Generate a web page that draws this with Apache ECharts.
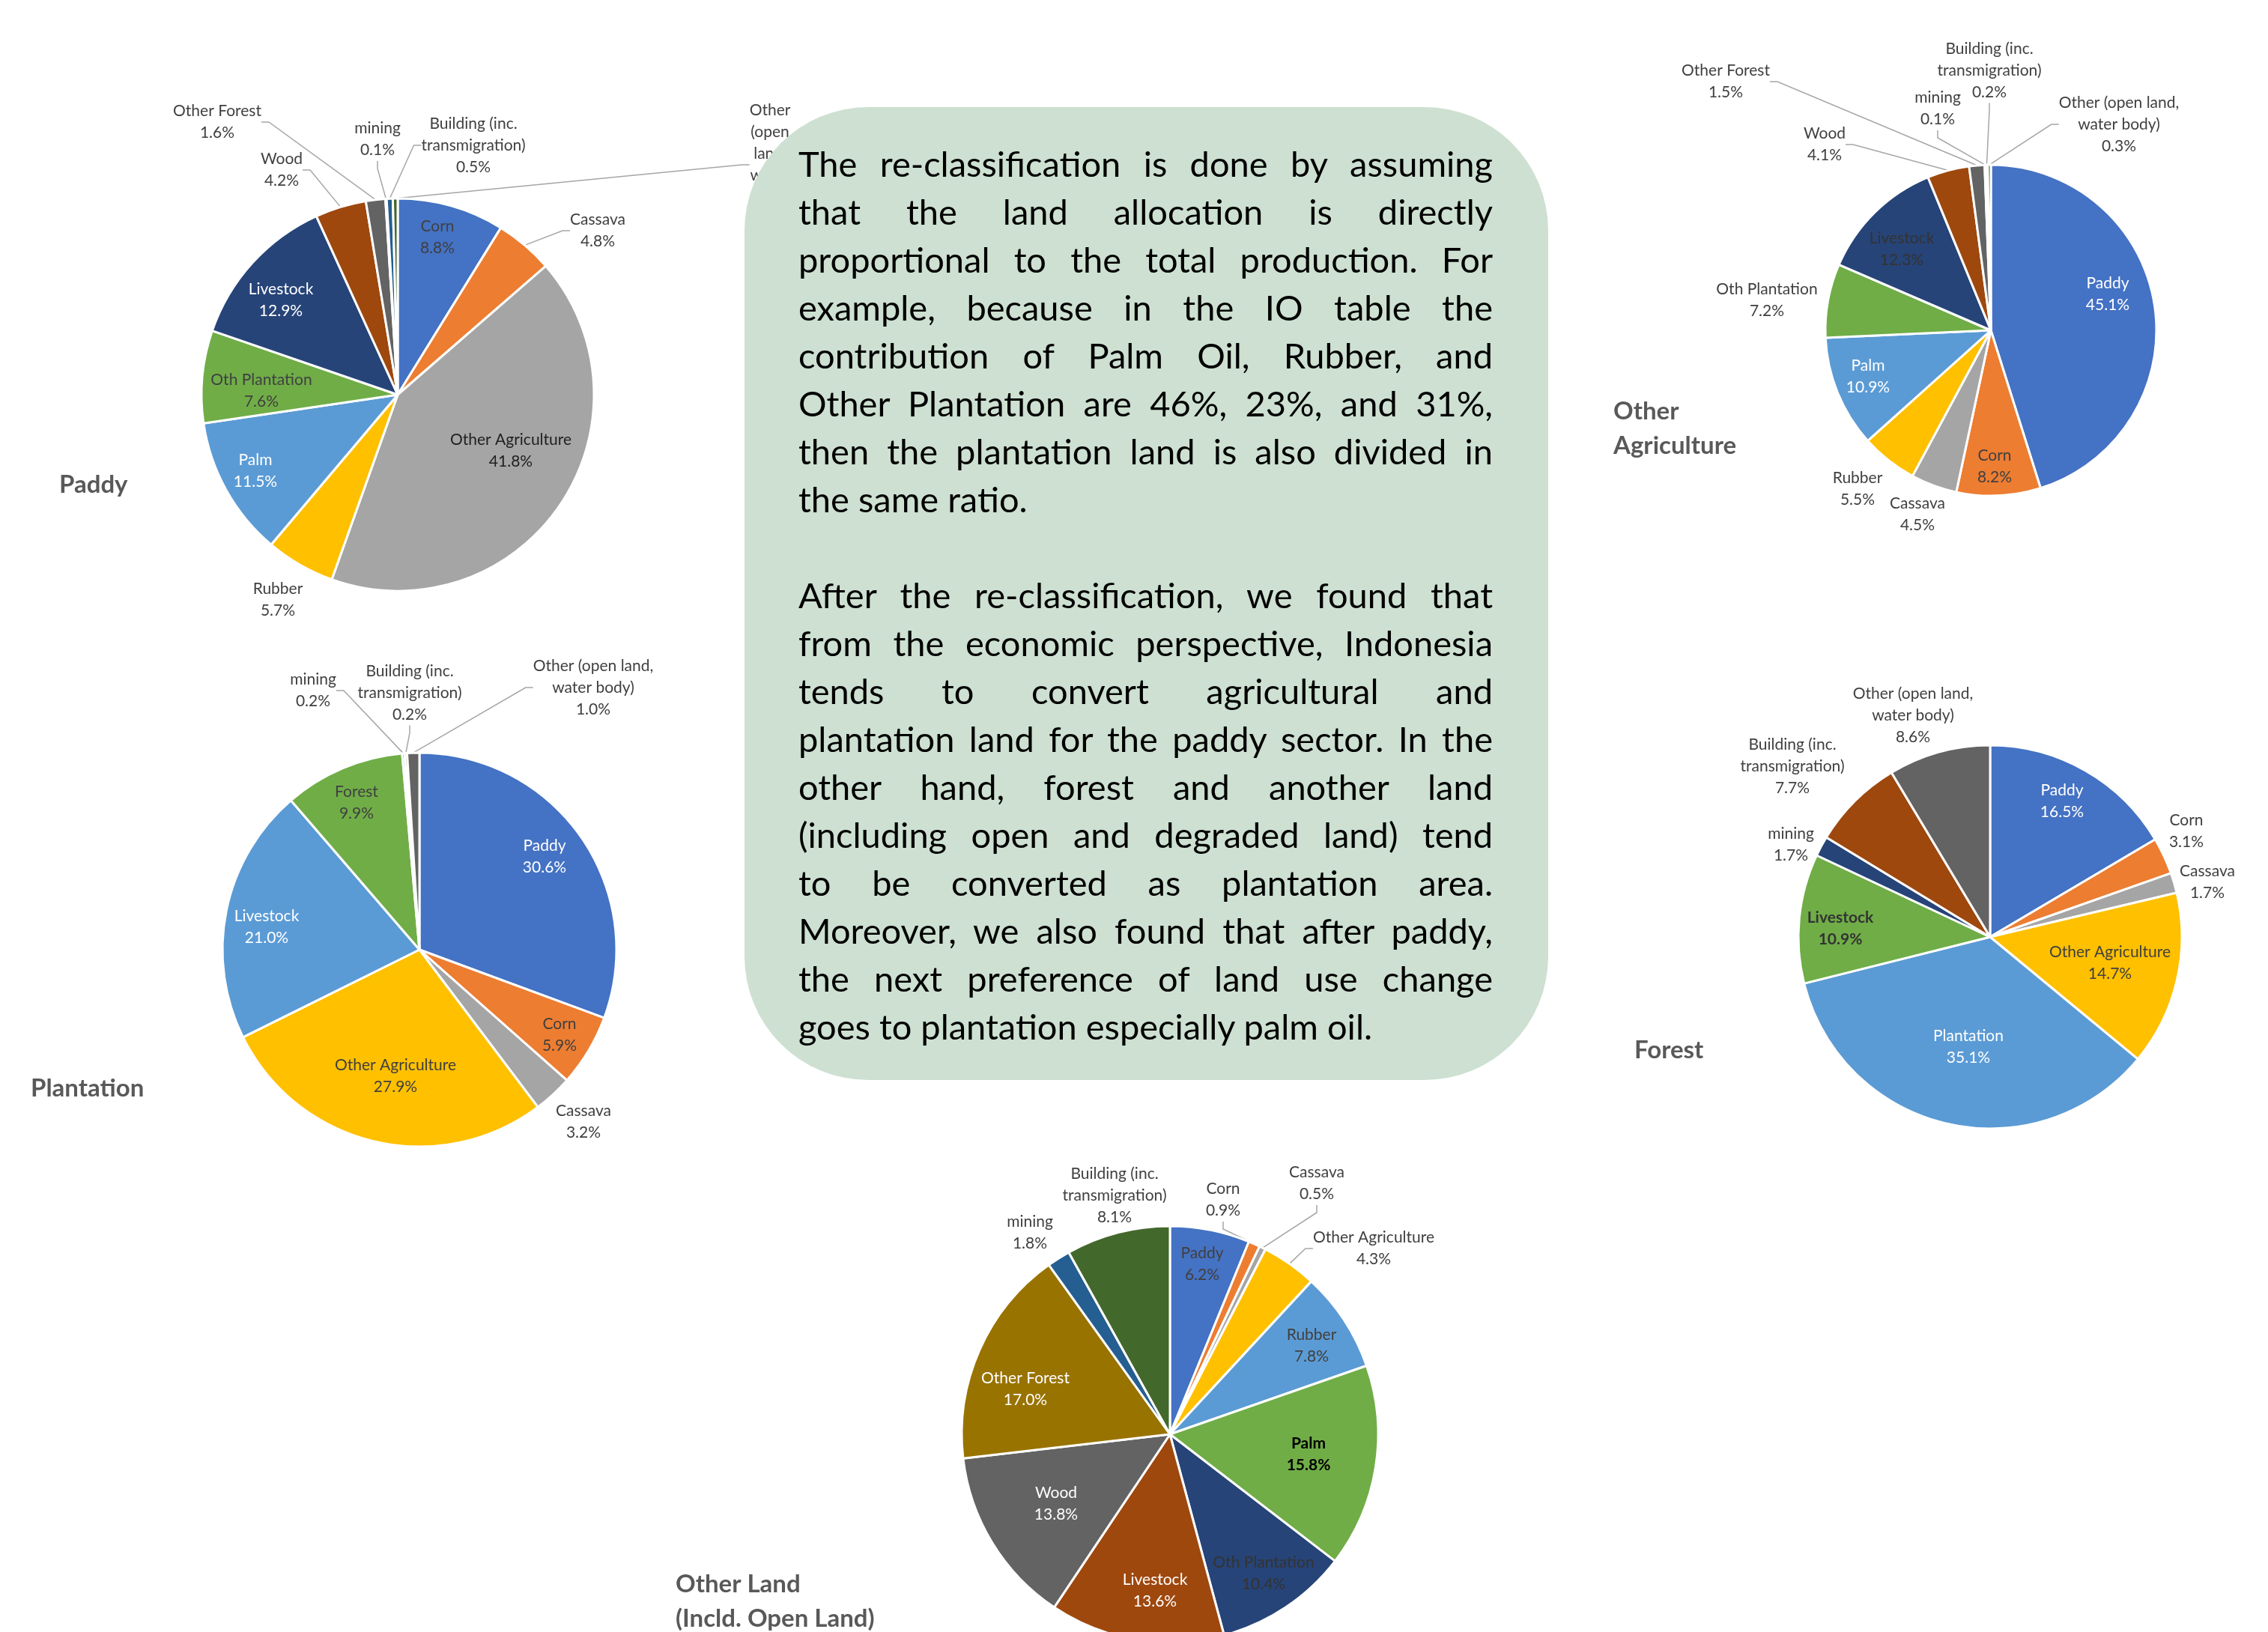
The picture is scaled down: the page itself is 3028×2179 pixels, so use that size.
<!DOCTYPE html>
<html>
<head>
<meta charset="utf-8">
<script src="https://cdn.jsdelivr.net/npm/echarts@6/dist/echarts.min.js"></script>
<style>
    html, body { margin: 0; padding: 0; background: #fff; }
    #wrap { position: relative; width: 3028px; height: 2179px; }
    #chart { position: absolute; left: 0; top: 0; width: 3028px; height: 2179px; }
    #note {
        position: absolute; left: 994px; top: 143px; width: 1073px; height: 1299px;
        background: #CDE0D1; border-radius: 165px; box-sizing: border-box;
        padding: 43px 0 0 72px;
    }
    #note div {
        width: 927px; height: 64px; line-height: 64px;
        font-family: Lato, sans-serif; font-size: 47px; color: #000;
        text-align: justify; text-align-last: justify;
    }
    #note div.end { text-align: left; text-align-last: left; }
</style>
</head>
<body>
<div id="wrap">
    <div id="chart"></div>
    <div id="note">
        <div>The re-classification is done by assuming</div>
        <div>that the land allocation is directly</div>
        <div>proportional to the total production. For</div>
        <div>example, because in the IO table the</div>
        <div>contribution of Palm Oil, Rubber, and</div>
        <div>Other Plantation are 46%, 23%, and 31%,</div>
        <div>then the plantation land is also divided in</div>
        <div class="end">the same ratio.</div>
        <div class="end"></div>
        <div>After the re-classification, we found that</div>
        <div>from the economic perspective, Indonesia</div>
        <div>tends to convert agricultural and</div>
        <div>plantation land for the paddy sector. In the</div>
        <div>other hand, forest and another land</div>
        <div>(including open and degraded land) tend</div>
        <div>to be converted as plantation area.</div>
        <div>Moreover, we also found that after paddy,</div>
        <div>the next preference of land use change</div>
        <div class="end">goes to plantation especially palm oil.</div>
    </div>
</div>
<script>
// shares (%) of land converted into each sector
var paddyCats = ['Corn', 'Cassava', 'Other Agriculture', 'Rubber', 'Palm', 'Oth Plantation', 'Livestock',
    'Wood', 'Other Forest', 'mining', 'Building (inc. transmigration)', 'Other (open land, water body)'];
var paddyShares = [8.8, 4.8, 41.8, 5.7, 11.5, 7.6, 12.9, 4.2, 1.6, 0.1, 0.5, 0.4];

var plantationCats = ['Paddy', 'Corn', 'Cassava', 'Other Agriculture', 'Livestock', 'Forest', 'mining',
    'Building (inc. transmigration)', 'Other (open land, water body)'];
var plantationShares = [30.6, 5.9, 3.2, 27.9, 21.0, 9.9, 0.2, 0.2, 1.0];

var otherAgriCats = ['Paddy', 'Corn', 'Cassava', 'Rubber', 'Palm', 'Oth Plantation', 'Livestock',
    'Wood', 'Other Forest', 'mining', 'Building (inc. transmigration)', 'Other (open land, water body)'];
var otherAgriShares = [45.1, 8.2, 4.5, 5.5, 10.9, 7.2, 12.3, 4.1, 1.5, 0.1, 0.2, 0.3];

var forestCats = ['Paddy', 'Corn', 'Cassava', 'Other Agriculture', 'Plantation', 'Livestock', 'mining',
    'Building (inc. transmigration)', 'Other (open land, water body)'];
var forestShares = [16.5, 3.1, 1.7, 14.7, 35.1, 10.9, 1.7, 7.7, 8.6];

var otherLandCats = ['Paddy', 'Corn', 'Cassava', 'Other Agriculture', 'Rubber', 'Palm', 'Oth Plantation',
    'Livestock', 'Wood', 'Other Forest', 'mining', 'Building (inc. transmigration)'];
var otherLandShares = [6.2, 0.9, 0.5, 4.3, 7.8, 15.8, 10.4, 13.6, 13.8, 17.0, 1.8, 8.1];

var officeColors = ['#4472C4', '#ED7D31', '#A5A5A5', '#FFC000', '#5B9BD5', '#70AD47',
    '#264478', '#9E480E', '#636363', '#997300', '#255E91', '#43682B'];

var wrapNames = {
    'Building (inc. transmigration)': 'Building (inc.\ntransmigration)',
    'Other (open land, water body)': 'Other (open land,\nwater body)'
};

// label spots: offset from pie centre [dx, dy, leader line]
var paddySpots = {
    'Corn': [53, -210], 'Cassava': [267, -219, 1], 'Other Agriculture': [151, 75], 'Rubber': [-160, 274],
    'Palm': [-190, 102], 'Oth Plantation': [-182, -5], 'Livestock': [-156, -126], 'Wood': [-155, -300, 1],
    'Other Forest': [-241, -364, 1], 'mining': [-27, -341, 1], 'Building (inc. transmigration)': [101, -333, 1],
    'Other (open land, water body)': [497, -307, 1]
};
var plantationSpots = {
    'Paddy': [167, -124], 'Corn': [187, 114], 'Cassava': [219, 230], 'Other Agriculture': [-32, 169],
    'Livestock': [-204, -30], 'Forest': [-84, -196], 'mining': [-142, -346, 1],
    'Building (inc. transmigration)': [-13, -343, 1], 'Other (open land, water body)': [232, -350, 1]
};
var otherAgriSpots = {
    'Paddy': [156, -48], 'Corn': [5, 182], 'Cassava': [-98, 246], 'Rubber': [-178, 212], 'Palm': [-164, 62],
    'Oth Plantation': [-299, -40], 'Livestock': [-119, -108], 'Wood': [-222, -248, 1],
    'Other Forest': [-354, -332, 1], 'mining': [-71, -296, 1], 'Building (inc. transmigration)': [-2, -347, 1],
    'Other (open land, water body)': [171, -275, 1]
};
var forestSpots = {
    'Paddy': [96, -181], 'Corn': [262, -141], 'Cassava': [290, -73], 'Other Agriculture': [160, 35],
    'Plantation': [-29, 147], 'Livestock': [-200, -11], 'mining': [-266, -123],
    'Building (inc. transmigration)': [-264, -228], 'Other (open land, water body)': [-103, -296]
};
var otherLandSpots = {
    'Paddy': [43, -227], 'Corn': [71, -313, 1], 'Cassava': [196, -335, 1], 'Other Agriculture': [272, -248, 1],
    'Rubber': [189, -118], 'Palm': [185, 27], 'Oth Plantation': [125, 186], 'Livestock': [-20, 209],
    'Wood': [-152, 93], 'Other Forest': [-193, -60], 'mining': [-187, -269],
    'Building (inc. transmigration)': [-74, -319]
};

var paddyLooks = {
    'Livestock': { color: '#fff' }, 'Palm': { color: '#fff' }, 'Other Agriculture': { color: '#1f1f1f' },
    'Other (open land, water body)': { wrap: 'Other\n(open\nland,\nwater\nbody)' }
};
var plantationLooks = { 'Paddy': { color: '#fff' }, 'Livestock': { color: '#fff' } };
var otherAgriLooks = { 'Paddy': { color: '#fff' }, 'Palm': { color: '#fff' }, 'Livestock': { color: '#333' } };
var forestLooks = { 'Paddy': { color: '#fff' }, 'Plantation': { color: '#fff' }, 'Livestock': { color: '#333', bold: true } };
var otherLandLooks = {
    'Palm': { color: '#000', bold: true }, 'Livestock': { color: '#fff' }, 'Wood': { color: '#fff' },
    'Other Forest': { color: '#fff' }, 'Oth Plantation': { color: '#333' }
};

function pieSeries(cats, shares, cx, cy, r, spots, looks) {
    return {
        type: 'pie',
        left: 0, top: 0, width: 8000, height: 8000,
        center: [cx, cy],
        radius: r,
        startAngle: 90,
        clockwise: true,
        avoidLabelOverlap: false,
        silent: true,
        emphasis: { disabled: true },
        itemStyle: { borderColor: '#fff', borderWidth: 3 },
        label: {
            position: 'outside',
            fontFamily: 'Lato',
            fontSize: 21,
            lineHeight: 29,
            color: '#404040',
            formatter: function (p) {
                var look = looks[p.name] || {};
                var name = look.wrap || wrapNames[p.name] || p.name;
                return name + '\n' + p.value.toFixed(1) + '%';
            }
        },
        labelLine: { show: false, length: 10, length2: 10, lineStyle: { color: '#A6A6A6', width: 1.5 } },
        labelLayout: function (p) {
            var s = spots[cats[p.dataIndex]];
            return { x: cx + s[0], y: cy + s[1], align: 'center', verticalAlign: 'middle' };
        },
        data: cats.map(function (c, i) {
            var look = looks[c] || {};
            return {
                name: c,
                value: shares[i],
                itemStyle: { color: officeColors[i] },
                label: { color: look.color || '#404040', fontWeight: look.bold ? 'bold' : 'normal' },
                labelLine: { show: !!spots[c][2] }
            };
        })
    };
}

function heading(text, left, top) {
    return {
        text: text, left: left, top: top, padding: 0,
        textStyle: { fontFamily: 'Lato', fontSize: 33, fontWeight: 'bold', color: '#595959', lineHeight: 46 }
    };
}

var chart = echarts.init(document.getElementById('chart'));

var option = {
    backgroundColor: '#fff',
    animation: false,
    title: [
        heading('Paddy', 79, 624),
        heading('Plantation', 41, 1430),
        heading('Other\nAgriculture', 2154, 526),
        heading('Forest', 2182, 1379),
        heading('Other Land\n(Incld. Open Land)', 902, 2092)
    ],
    series: [
        pieSeries(paddyCats, paddyShares, 531, 527, 262, paddySpots, paddyLooks),
        pieSeries(plantationCats, plantationShares, 560, 1268, 263, plantationSpots, plantationLooks),
        pieSeries(otherAgriCats, otherAgriShares, 2658, 441, 221, otherAgriSpots, otherAgriLooks),
        pieSeries(forestCats, forestShares, 2657, 1251, 256, forestSpots, forestLooks),
        pieSeries(otherLandCats, otherLandShares, 1562, 1915, 278, otherLandSpots, otherLandLooks)
    ]
};

chart.setOption(option);
</script>
</body>
</html>
